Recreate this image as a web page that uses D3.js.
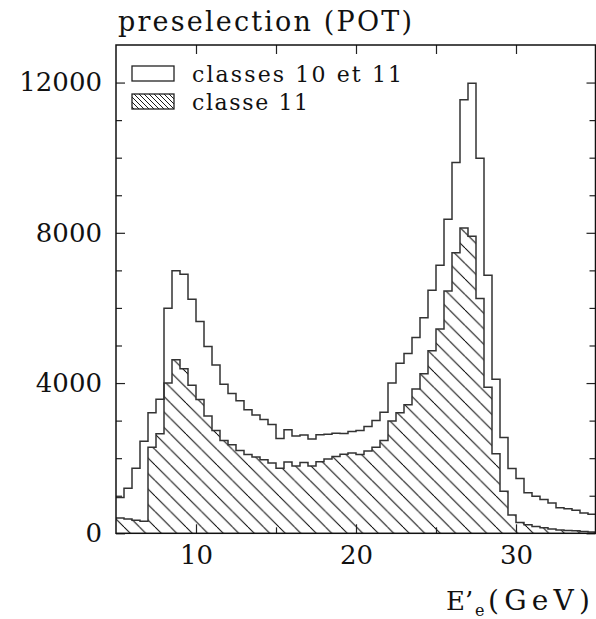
<!DOCTYPE html>
<html>
<head>
<meta charset="utf-8">
<script src="https://cdn.jsdelivr.net/npm/d3@7"></script>
<style>
  body { margin: 0; background: #fff; }
  svg { display: block; }
  text { font-family: "DejaVu Serif", serif; fill: #111; }
</style>
</head>
<body>
<div id="chart"></div>
<script>
// E'e bins: 60 bins of 0.5 GeV from 5 to 35
const binLow = 5;
const binWidth = 0.5;

// classes 10 et 11 (open histogram)
const classes1011 = [
  950, 1200, 1730, 2450, 3210, 3570, 5990, 6990, 6900, 6230,
  5640, 4970, 4480, 3970, 3720, 3530, 3290, 3150, 3030, 2895,
  2525, 2757, 2590, 2615, 2510, 2625, 2640, 2665, 2660, 2710,
  2740, 2845, 3005, 3220, 4000, 4530, 4785, 5215, 5740, 6470,
  7135, 8360, 9870, 11540, 11980, 9985, 6870, 4100, 2550, 1725,
  1460, 1077, 985, 900, 810, 677, 655, 615, 540, 510
];

// classe 11 (hatched histogram)
const classe11 = [
  410, 380, 350, 320, 2290, 2650, 4000, 4620, 4380, 3940,
  3560, 3120, 2740, 2470, 2360, 2205, 2100, 2030, 1960, 1870,
  1735, 1895, 1790, 1885, 1790, 1905, 1975, 2045, 2105, 2135,
  2100, 2190, 2290, 2470, 2990, 3210, 3420, 3840, 4250, 4860,
  5440, 6450, 7470, 8130, 7910, 6250, 3890, 2120, 1120, 490,
  290, 230, 180, 145, 115, 90, 75, 70, 50, 35
];

const yMajor = [0, 4000, 8000, 12000];
const yMinor = d3.range(1000, 13000, 1000).filter(v => !yMajor.includes(v));
const xMajor = [10, 20, 30];
const xMinor = [15, 25];

const legendItems = ["classes 10 et 11", "classe 11"];

const W = 596, H = 619;
const margin = {top: 45, right: 0.5, bottom: 86, left: 116};

const svg = d3.select("#chart").append("svg")
  .attr("width", W)
  .attr("height", H);

const defs = svg.append("defs");

function hatch(id, step, width) {
  const p = defs.append("pattern")
    .attr("id", id)
    .attr("patternUnits", "userSpaceOnUse")
    .attr("width", step)
    .attr("height", step);
  p.append("path")
    .attr("d", `M0,0L${step},${step}M${-step / 2},${step / 2}L0,${step}M${step},0L${step * 1.5},${step / 2}`)
    .attr("stroke", "#000")
    .attr("stroke-width", width);
}
hatch("hatchBig", 15.5, 1);
hatch("hatchSmall", 5, 0.9);

defs.append("clipPath").attr("id", "plotClip")
  .append("rect")
  .attr("x", margin.left)
  .attr("y", margin.top)
  .attr("width", W - margin.left - margin.right)
  .attr("height", H - margin.top - margin.bottom);

const x = d3.scaleLinear()
  .domain([5, 35])
  .range([margin.left, W]);

const y = d3.scaleLinear()
  .domain([0, 13000])
  .range([H - margin.bottom + 0.3, margin.top]);

// step outline for a histogram
function stepPoints(vals) {
  const pts = [];
  vals.forEach((v, i) => {
    const x0 = binLow + i * binWidth;
    pts.push([x0, v], [x0 + binWidth, v]);
  });
  return pts;
}

const line = d3.line()
  .x(d => x(d[0]))
  .y(d => y(d[1]));

const area = d3.area()
  .x(d => x(d[0]))
  .y0(y(0))
  .y1(d => y(d[1]));

const plot = svg.append("g").attr("clip-path", "url(#plotClip)");

plot.append("path")
  .datum(stepPoints(classe11))
  .attr("d", area)
  .attr("fill", "url(#hatchBig)");

plot.append("path")
  .datum(stepPoints(classe11))
  .attr("d", line)
  .attr("fill", "none")
  .attr("stroke", "#333")
  .attr("stroke-width", 1.5);

plot.append("path")
  .datum(stepPoints(classes1011))
  .attr("d", line)
  .attr("fill", "none")
  .attr("stroke", "#333")
  .attr("stroke-width", 1.5);

// axes, ticks inside on all four sides
const y0 = y(0), yTop = margin.top, xRight = W - margin.right;

function styleAxis(g) {
  g.select(".domain").remove();
  g.selectAll(".tick line").attr("stroke", "#222").attr("stroke-width", 1.2);
  g.selectAll("text")
    .attr("font-family", "DejaVu Serif")
    .attr("font-size", 26)
    .attr("fill", "#111");
}

svg.append("g")
  .attr("transform", `translate(${margin.left},0)`)
  .call(d3.axisLeft(y).tickValues(yMajor).tickSize(-9).tickPadding(14).tickFormat(d3.format("d")))
  .call(styleAxis);
svg.append("g")
  .attr("transform", `translate(${margin.left},0)`)
  .call(d3.axisLeft(y).tickValues(yMinor).tickSize(-6).tickFormat(""))
  .call(styleAxis);
svg.append("g")
  .attr("transform", `translate(${xRight},0)`)
  .call(d3.axisRight(y).tickValues(yMajor).tickSize(-9).tickFormat(""))
  .call(styleAxis);
svg.append("g")
  .attr("transform", `translate(${xRight},0)`)
  .call(d3.axisRight(y).tickValues(yMinor).tickSize(-6).tickFormat(""))
  .call(styleAxis);

svg.append("g")
  .attr("transform", `translate(0,${y0})`)
  .call(d3.axisBottom(x).tickValues(xMajor).tickSize(-9).tickPadding(12).tickFormat(d3.format("d")))
  .call(styleAxis);
svg.append("g")
  .attr("transform", `translate(0,${y0})`)
  .call(d3.axisBottom(x).tickValues(xMinor).tickSize(-6).tickFormat(""))
  .call(styleAxis);
svg.append("g")
  .attr("transform", `translate(0,${yTop})`)
  .call(d3.axisTop(x).tickValues(xMajor.concat(xMinor)).tickSize(-9).tickFormat(""))
  .call(styleAxis);

// frame
svg.append("rect")
  .attr("x", margin.left)
  .attr("y", yTop)
  .attr("width", xRight - margin.left)
  .attr("height", y0 - yTop)
  .attr("fill", "none")
  .attr("stroke", "#111")
  .attr("stroke-width", 1.5);

// title
svg.append("text")
  .attr("x", 118)
  .attr("y", 31)
  .attr("font-size", 27)
  .attr("textLength", 294)
  .attr("lengthAdjust", "spacing")
  .text("preselection (POT)");

// x axis label: E'e (GeV)
const xl = svg.append("g").attr("font-size", 26);
xl.append("text").attr("x", 446).attr("y", 610).text("E\u2019");
xl.append("text").attr("x", 475).attr("y", 616).attr("font-size", 16).text("e");
xl.append("text").attr("x", 488).attr("y", 610)
  .attr("font-size", 28)
  .attr("textLength", 102)
  .attr("lengthAdjust", "spacing")
  .text("(GeV)");

// legend
const legend = svg.append("g");
legend.selectAll("rect")
  .data(legendItems)
  .join("rect")
  .attr("x", 132)
  .attr("y", (d, i) => 66 + i * 28)
  .attr("width", 42)
  .attr("height", 15)
  .attr("fill", (d, i) => i === 0 ? "#fff" : "url(#hatchSmall)")
  .attr("stroke", "#222")
  .attr("stroke-width", 1.3);

legend.selectAll("text")
  .data(legendItems)
  .join("text")
  .attr("x", 192)
  .attr("y", (d, i) => 82 + i * 28)
  .attr("font-size", 22)
  .attr("textLength", (d, i) => i === 0 ? 210 : 116)
  .attr("lengthAdjust", "spacing")
  .text(d => d);
</script>
</body>
</html>
